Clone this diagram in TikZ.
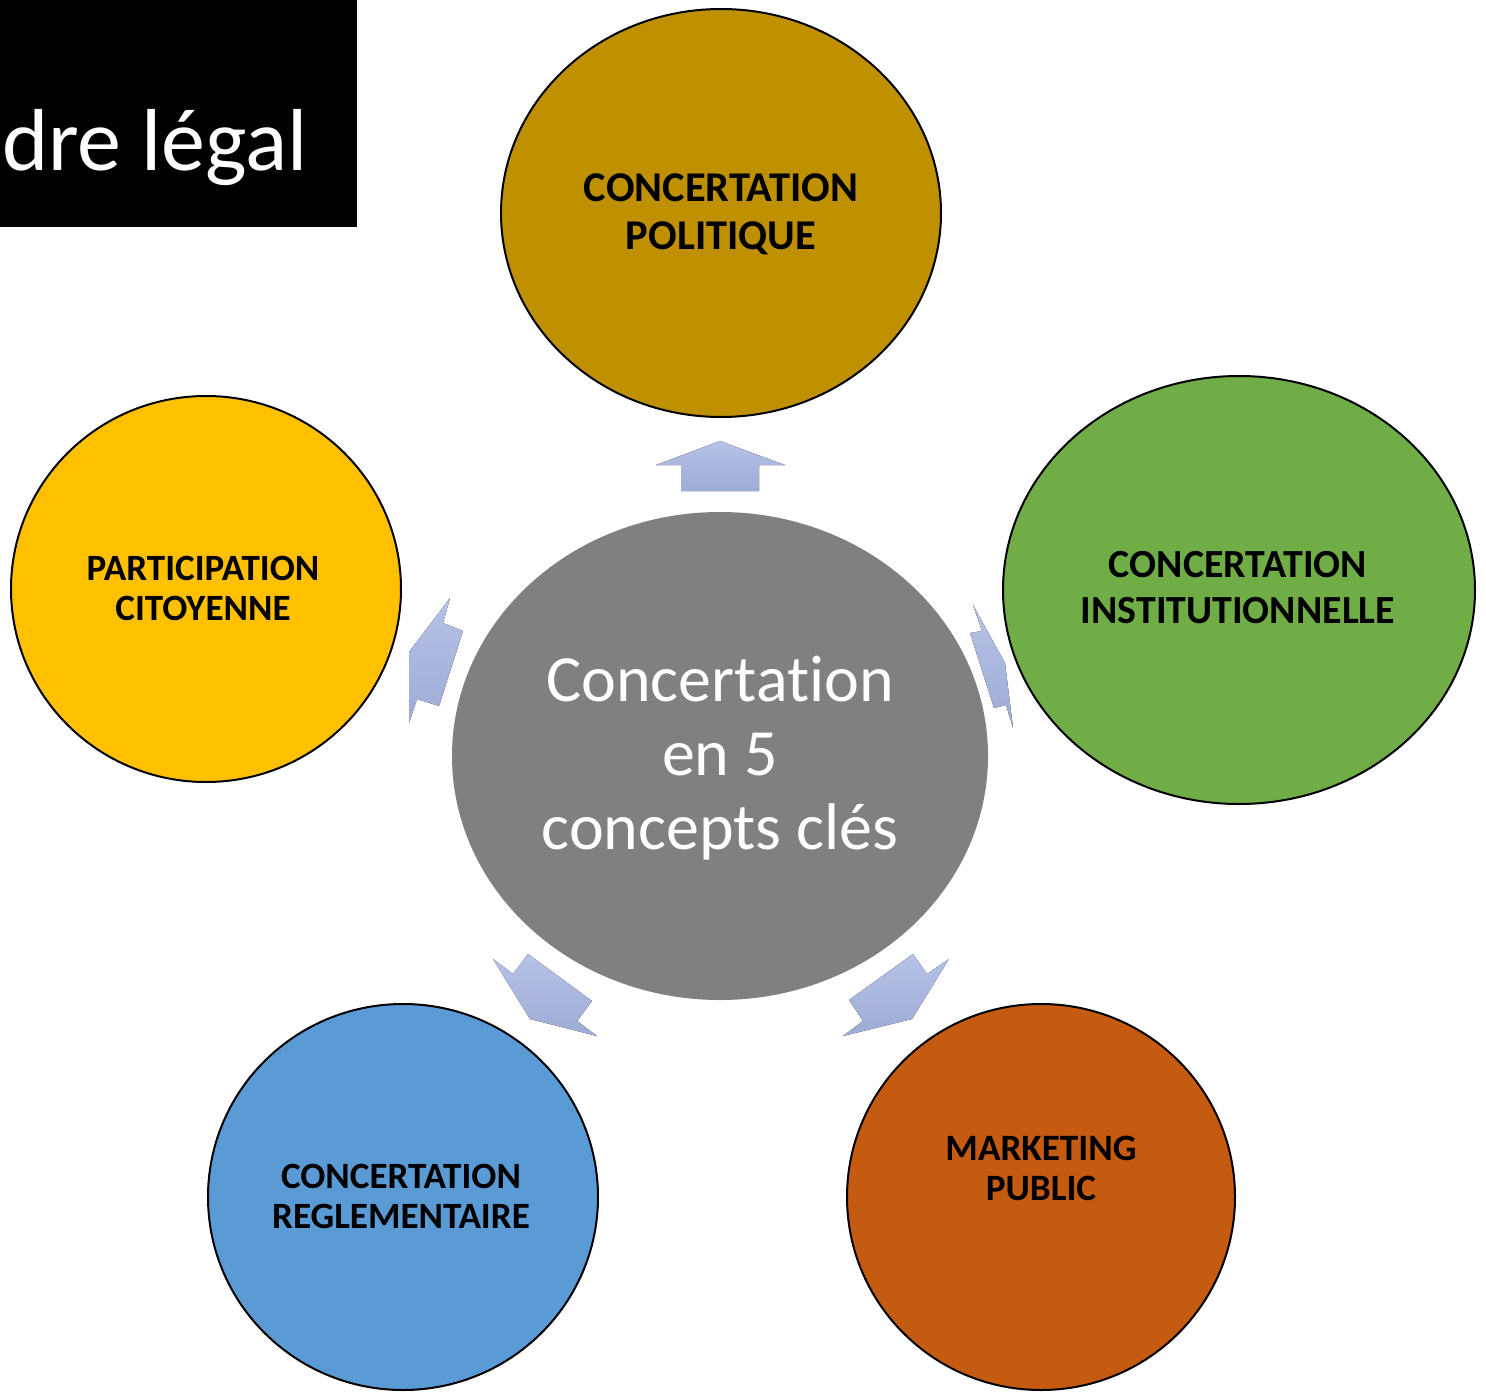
\documentclass[tikz,border=0pt]{standalone}
\usepackage{fontspec}
\setmainfont{Carlito}[Ligatures=NoCommon]
\definecolor{cgold}{RGB}{191,144,0}
\definecolor{cgreen}{RGB}{112,173,71}
\definecolor{cyellow}{RGB}{255,192,0}
\definecolor{cblue}{RGB}{91,155,213}
\definecolor{corange}{RGB}{197,90,17}
\definecolor{cgrey}{RGB}{128,128,128}
\definecolor{arrtop}{RGB}{182,194,230}
\definecolor{arrbot}{RGB}{158,171,214}
\tikzset{
  circ/.style={draw=black,line width=2pt},
  lbl/.style={align=center,text=black,font=\bfseries},
  arr/.style={top color=arrtop,bottom color=arrbot,draw=none},
}
\begin{document}
\begin{tikzpicture}[x=1pt,y=-1pt]
\useasboundingbox (0,0) rectangle (1486,1397);
\fill[white] (0,0) rectangle (1486,1397);
% title box
\fill[black] (0,0) rectangle (357,227);
\node[anchor=base west,text=white,inner sep=0pt,font=\fontsize{88}{100}\selectfont] (title) at (2,170) {dre légal};
% circles
\filldraw[circ,fill=cgold] (721,213) ellipse [x radius=220,y radius=204];
\filldraw[circ,fill=cgreen] (1239,590) ellipse [x radius=236,y radius=214];
\filldraw[circ,fill=cyellow] (206,589) ellipse [x radius=195,y radius=193];
\filldraw[circ,fill=cblue] (403,1197) ellipse [x radius=195,y radius=193];
\filldraw[circ,fill=corange] (1041,1197) ellipse [x radius=194,y radius=193];
\fill[cgrey] (720,756) ellipse [x radius=268,y radius=244];
% labels
\node[lbl,font=\bfseries\fontsize{42.4}{48}\selectfont] (pol) at (721,214) {CONCERTATION\\POLITIQUE};
\node[lbl,font=\bfseries\fontsize{39.9}{46}\selectfont] (inst) at (1238,588) {CONCERTATION\\INSTITUTIONNELLE};
\node[lbl,font=\bfseries\fontsize{37.1}{40}\selectfont] (part) at (203,588) {PARTICIPATION\\CITOYENNE};
\node[lbl,font=\bfseries\fontsize{37.1}{40}\selectfont] (regl) at (401,1196) {CONCERTATION\\REGLEMENTAIRE};
\node[lbl,font=\bfseries\fontsize{37.2}{40}\selectfont] (mark) at (1041,1168) {MARKETING\\PUBLIC};
\node[align=center,text=white,font=\fontsize{66}{74}\selectfont] (ctr) at (720,758) {Concertation\\en 5\\concepts clés};
% arrows
\fill[arr] (720,441) -- (785,465) -- (759,465) -- (759,491) -- (681,491) -- (681,465) -- (656,465) -- cycle;
\fill[arr] (450,598) -- (443,623) -- (463,631) -- (439,706) -- (417,699) -- (409,723) -- (409,652) -- cycle;
\fill[arr] (973,605) -- (982,631) -- (970,633) -- (994,708) -- (1006,705) -- (1013,728) -- (1005,663) -- cycle;
\fill[arr] (493,959) -- (513,974) -- (528,954) -- (592,1001) -- (577,1021) -- (597,1036) -- (530,1019) -- cycle;
\fill[arr] (913,954) -- (927,974) -- (949,959) -- (912,1019) -- (843,1036) -- (863,1021) -- (849,1000) -- cycle;
\end{tikzpicture}
\end{document}
